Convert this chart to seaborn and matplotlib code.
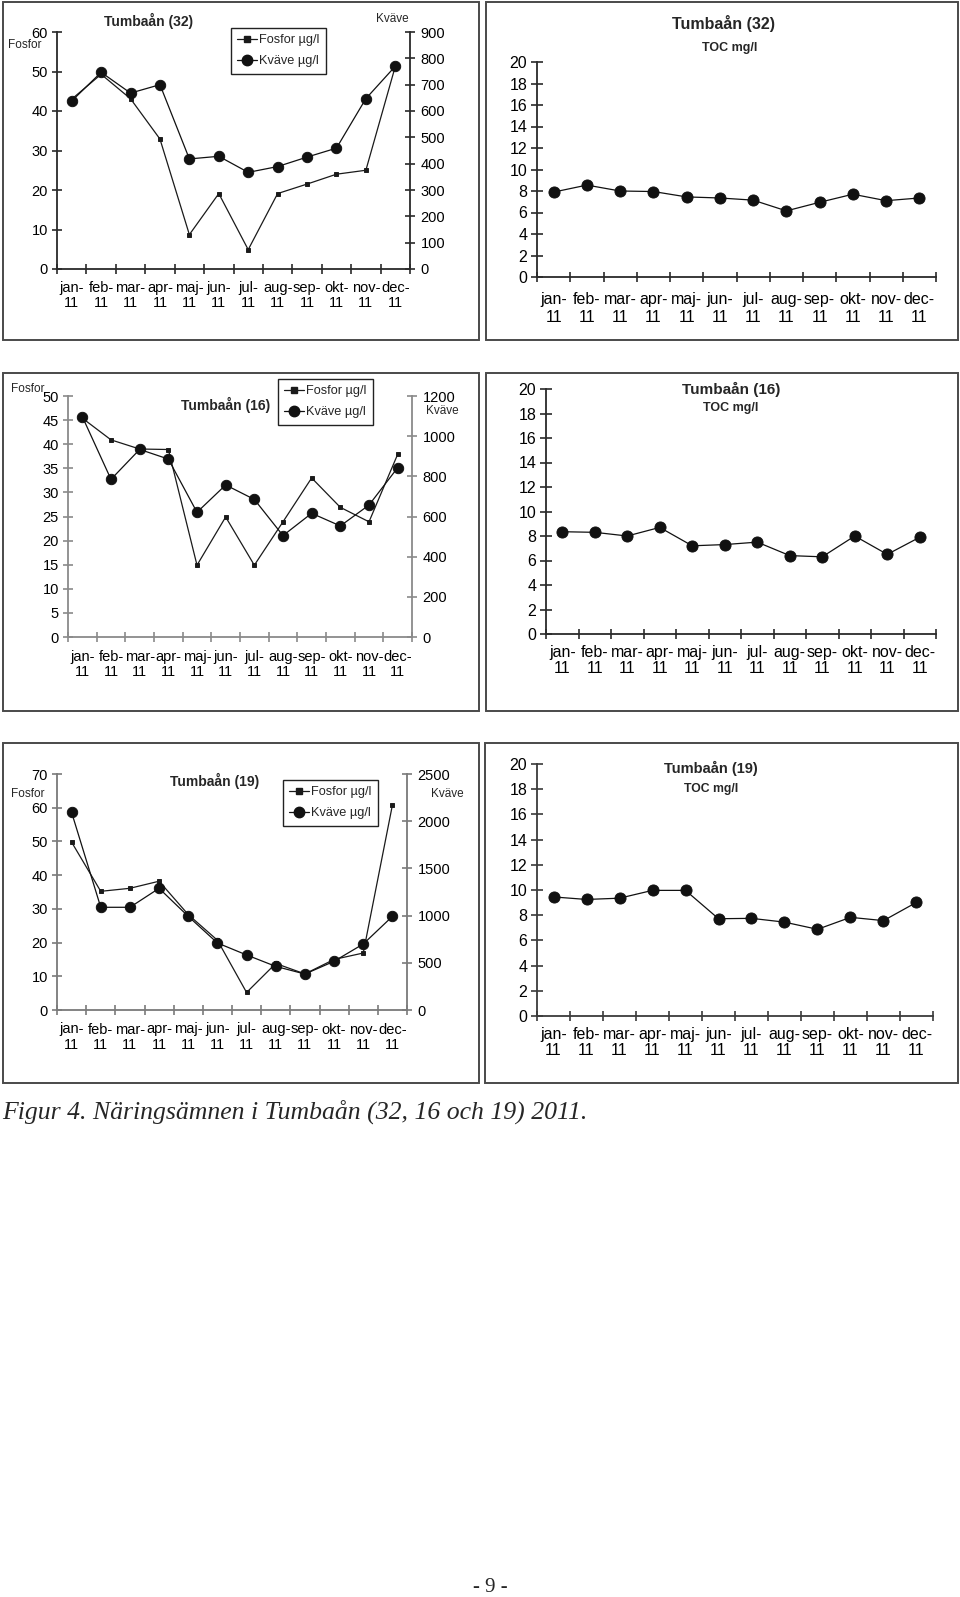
import numpy as np
import pandas as pd
import seaborn as sns
import matplotlib.pyplot as plt
from matplotlib.patches import Rectangle
from matplotlib.lines import Line2D

months = ['jan-\n11', 'feb-\n11', 'mar-\n11', 'apr-\n11', 'maj-\n11', 'jun-\n11',
          'jul-\n11', 'aug-\n11', 'sep-\n11', 'okt-\n11', 'nov-\n11', 'dec-\n11']

# Tumbaån (32)
fosfor_32 = [43, 49.3, 43.1, 32.9, 8.7, 19.1, 4.9, 19.1, 21.5, 24, 25, 51.3]
kvave_32 = [638, 747, 668, 700, 418, 428, 367, 389, 425, 459, 647, 770]
toc_32 = [7.9, 8.55, 8.0, 7.95, 7.45, 7.35, 7.15, 6.15, 6.95, 7.7, 7.1, 7.35]

# Tumbaån (16)
fosfor_16 = [45.4, 40.9, 39.0, 38.9, 14.9, 24.9, 14.9, 23.9, 33, 26.9, 23.9, 37.9]
kvave_16 = [1097, 785, 934, 886, 621, 757, 685, 505, 616, 553, 657, 843]
toc_16 = [8.35, 8.3, 8.0, 8.7, 7.2, 7.3, 7.5, 6.4, 6.3, 8.0, 6.5, 7.9]

# Tumbaån (19)
fosfor_19 = [49.8, 35.2, 36.1, 38.2, 28.3, 20.7, 5.2, 13.8, 10.7, 15.0, 16.9, 60.8]
kvave_19 = [2094, 1088, 1088, 1289, 992, 710, 583, 462, 381, 516, 699, 992]
toc_19 = [9.45, 9.25, 9.35, 9.97, 9.97, 7.72, 7.75, 7.45, 6.88, 7.83, 7.57, 9.02]

W, H = 960, 1597

sns.set_style('ticks')
plt.rcParams['font.family'] = ['Liberation Sans', 'DejaVu Sans']

fig = plt.figure(figsize=(W / 100, H / 100), dpi=100)


def px_axes(x0, y0, x1, y1):
    return fig.add_axes([x0 / W, 1 - y1 / H, (x1 - x0) / W, (y1 - y0) / H])


def px_text(x, y, s, **kw):
    fig.text(x / W, 1 - y / H, s, ha=kw.pop('ha', 'center'), va=kw.pop('va', 'center'), **kw)


def frame(x0, y0, x1, y1):
    fig.add_artist(Rectangle((x0 / W, 1 - y1 / H), (x1 - x0) / W, (y1 - y0) / H,
                             transform=fig.transFigure, fill=False, ec='#4a4a4a', lw=1.4))


def style_x(ax, color, fs, pad, spacing):
    ax.set_xlim(-0.5, len(months) - 0.5)
    ax.set_xticks(range(len(months)))
    ax.set_xticklabels(months, fontsize=fs, linespacing=spacing)
    ax.set_xticks(np.arange(-0.5, len(months)), minor=True)
    ax.tick_params(axis='x', which='major', length=0, pad=pad, colors='black', bottom=True)
    ax.tick_params(axis='x', which='minor', length=7, width=1.2, direction='inout',
                   color=color, bottom=True)
    ax.set_xlabel('')


def nutrient_panel(rect, fosfor, kvave, fmax, fstep, kmax, kstep, axcolor, legend_xy, xpad=9):
    df = pd.DataFrame({'Månad': months, 'Fosfor': fosfor, 'Kväve': kvave})
    ax = px_axes(*rect)
    sns.pointplot(data=df, x='Månad', y='Fosfor', ax=ax, color='#1a1a1a', markers='s',
                  markersize=3.5, linewidth=0.9, errorbar=None)
    ax2 = ax.twinx()
    sns.pointplot(data=df, x='Månad', y='Kväve', ax=ax2, color='#111111', markers='o',
                  markersize=7.5, linewidth=0.9, errorbar=None)
    ax.set_ylim(0, fmax)
    ax.set_yticks(np.arange(0, fmax + 1, fstep))
    ax2.set_ylim(0, kmax)
    ax2.set_yticks(np.arange(0, kmax + 1, kstep))
    for a in (ax, ax2):
        a.set_ylabel('')
        a.patch.set_visible(False)
        for s in a.spines.values():
            s.set_visible(False)
    ax.spines['left'].set_visible(True)
    ax.spines['bottom'].set_visible(True)
    ax2.spines['right'].set_visible(True)
    for s in (ax.spines['left'], ax.spines['bottom'], ax2.spines['right']):
        s.set_color(axcolor)
        s.set_linewidth(1.3)
    ax.tick_params(axis='y', length=7, width=1.2, direction='inout', color=axcolor,
                   labelsize=10.5, pad=3, labelcolor='black', left=True, right=False)
    ax2.tick_params(axis='y', length=7, width=1.2, direction='inout', color=axcolor,
                    labelsize=10.5, pad=4, labelcolor='black', right=True, left=False)
    style_x(ax, axcolor, 10.5, xpad, 1.1)
    handles = [Line2D([], [], color='#1a1a1a', lw=0.9, marker='s', ms=4),
               Line2D([], [], color='#111111', lw=0.9, marker='o', ms=7.5)]
    fig.legend(handles, ['Fosfor µg/l', 'Kväve µg/l'], loc='upper left',
               bbox_to_anchor=(legend_xy[0] / W, 1 - legend_xy[1] / H),
               frameon=True, fancybox=False, edgecolor='#222222', framealpha=1,
               fontsize=9.2, handlelength=1.5, handletextpad=0.2, borderpad=0.5,
               labelspacing=0.7, borderaxespad=0)
    return ax, ax2


def toc_panel(rect, toc, axcolor, xpad=8, spacing=1.1):
    df = pd.DataFrame({'Månad': months, 'TOC': toc})
    ax = px_axes(*rect)
    sns.pointplot(data=df, x='Månad', y='TOC', ax=ax, color='#111111', markers='o',
                  markersize=8, linewidth=0.9, errorbar=None)
    ax.set_ylim(0, 20)
    ax.set_yticks(np.arange(0, 21, 2))
    ax.set_ylabel('')
    for side in ('top', 'right'):
        ax.spines[side].set_visible(False)
    for side in ('left', 'bottom'):
        ax.spines[side].set_color(axcolor)
        ax.spines[side].set_linewidth(1.3)
    ax.tick_params(axis='y', length=8, width=1.2, direction='inout', color=axcolor,
                   labelsize=11.5, pad=3, labelcolor='black', left=True)
    style_x(ax, axcolor, 11.5, xpad, spacing)
    return ax


# frames around each chart
frame(3, 2, 479, 340)
frame(486, 2, 958, 340)
frame(3, 373, 479, 711)
frame(486, 373, 958, 711)
frame(3, 743, 479, 1083)
frame(485, 743, 958, 1083)

# row 1
nutrient_panel((57, 32, 410, 269), fosfor_32, kvave_32, 60, 10, 900, 100, '#2a2a2a', (231, 28), xpad=8.5)
px_text(149, 21, 'Tumbaån (32)', fontsize=10, fontweight='bold')
px_text(25, 45, 'Fosfor', fontsize=8.5)
px_text(392, 19, 'Kväve', fontsize=8.5)

toc_panel((537, 62, 936, 277), toc_32, '#2a2a2a', xpad=11, spacing=1.25)
px_text(724, 24, 'Tumbaån (32)', fontsize=11.5, fontweight='bold')
px_text(730, 48, 'TOC mg/l', fontsize=9, fontweight='bold')

# row 2
nutrient_panel((68, 396, 412, 637), fosfor_16, kvave_16, 50, 5, 1200, 200, '#8a8a8a', (278, 379), xpad=9.5)
px_text(226, 405, 'Tumbaån (16)', fontsize=10, fontweight='bold')
px_text(28, 389, 'Fosfor', fontsize=8.5)
px_text(442, 411, 'Kväve', fontsize=8.5)

toc_panel((546, 389, 936, 634), toc_16, '#2a2a2a', xpad=8)
px_text(731, 389, 'Tumbaån (16)', fontsize=11, fontweight='bold')
px_text(731, 408, 'TOC mg/l', fontsize=9, fontweight='bold')

# row 3
nutrient_panel((57, 774, 407, 1010), fosfor_19, kvave_19, 70, 10, 2500, 500, '#7a7a7a', (283, 780), xpad=9)
px_text(215, 781, 'Tumbaån (19)', fontsize=10, fontweight='bold')
px_text(28, 794, 'Fosfor', fontsize=8.5)
px_text(447, 794, 'Kväve', fontsize=8.5)

toc_panel((537, 764, 933, 1016), toc_19, '#3a3a3a', xpad=8)
px_text(711, 768, 'Tumbaån (19)', fontsize=10.5, fontweight='bold')
px_text(711, 789, 'TOC mg/l', fontsize=8.8, fontweight='bold')

# caption and page number
px_text(2, 1112, 'Figur 4. Näringsämnen i Tumbaån (32, 16 och 19) 2011.', ha='left',
        fontsize=18.5, style='italic', family='Liberation Serif')
px_text(490, 1588, '- 9 -', fontsize=15, family='Liberation Serif')

fig.savefig('out.png', dpi=100)
